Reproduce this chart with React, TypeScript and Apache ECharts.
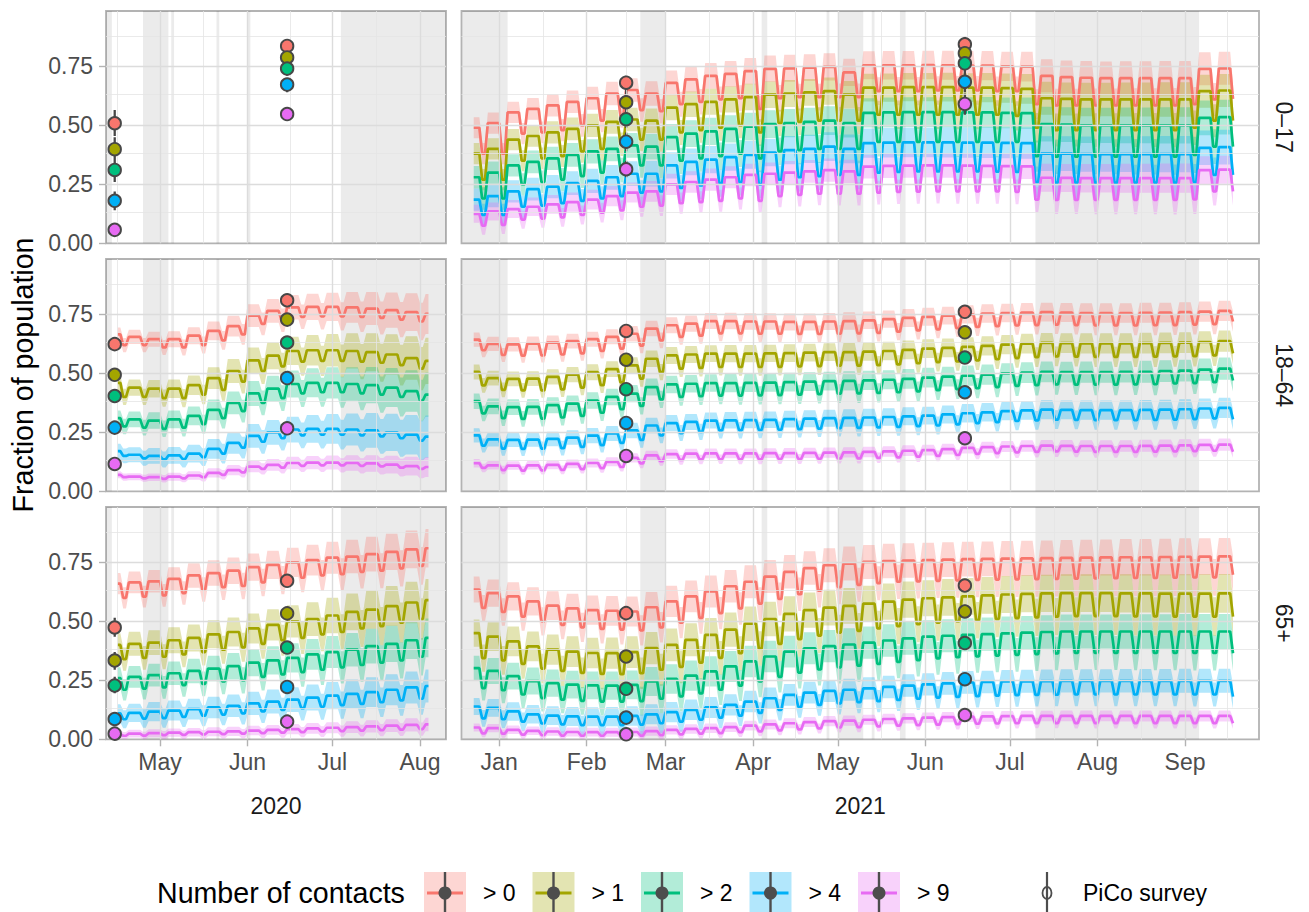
import React, { useEffect, useRef } from 'react';
import * as echarts from 'echarts';

const DAY = 86400000;
const d = (s: string) => Date.parse(s.length > 10 ? s + ':00Z' : s + 'T00:00:00Z');

const FONT = '"Liberation Sans", Arial, Helvetica, sans-serif';
const COLORS = ['#F8766D', '#A3A500', '#00BF7D', '#00B0F6', '#E76BF3'];
const FILLS = ['rgba(248,118,109,0.3)', 'rgba(163,165,0,0.3)', 'rgba(0,191,125,0.3)', 'rgba(0,176,246,0.3)', 'rgba(231,107,243,0.3)'];
const CATEGORIES = ['> 0', '> 1', '> 2', '> 4', '> 9'];
const AGE_GROUPS = ['0–17', '18–64', '65+'];
const YEARS = ['2020', '2021'];
const LEGEND_TITLE = 'Number of contacts';
const PICO_LABEL = 'PiCo survey';
const Y_TITLE = 'Fraction of population';
const Y_TICKS = [0, 0.25, 0.5, 0.75];
const Y_TICK_LABELS = ['0.00', '0.25', '0.50', '0.75'];
const Y_MINOR = [0.125, 0.375, 0.625, 0.875];
const Y_MAX = 0.985;

// x ranges of the panels
const X_RANGE_2020 = ['2020-04-11T22:00', '2020-08-10T05:00'];
const X_RANGE_2021 = ['2020-12-18T16:00', '2021-09-27T05:00'];
// month breaks (outer ones only used for minor grid lines)
const MONTHS_2020 = ['2020-04-01', '2020-05-01', '2020-06-01', '2020-07-01', '2020-08-01', '2020-09-01'];
const MONTH_TICKS_2020 = ['2020-05-01', '2020-06-01', '2020-07-01', '2020-08-01'];
const MONTH_LABELS_2020 = ['May', 'Jun', 'Jul', 'Aug'];
const MONTHS_2021 = ['2020-12-01', '2021-01-01', '2021-02-01', '2021-03-01', '2021-04-01', '2021-05-01', '2021-06-01', '2021-07-01', '2021-08-01', '2021-09-01', '2021-10-01'];
const MONTH_TICKS_2021 = ['2021-01-01', '2021-02-01', '2021-03-01', '2021-04-01', '2021-05-01', '2021-06-01', '2021-07-01', '2021-08-01', '2021-09-01'];
const MONTH_LABELS_2021 = ['Jan', 'Feb', 'Mar', 'Apr', 'May', 'Jun', 'Jul', 'Aug', 'Sep'];

// daily model data: first day, last day, monday of first week
const DAYS_2020 = ['2020-04-16', '2020-08-04', '2020-04-13'];
const DAYS_2021 = ['2020-12-23', '2021-09-18', '2020-12-21'];

// school holidays / public holidays (start inclusive, end exclusive)
const HOLIDAYS_2020 = [['2020-04-10', '2020-04-14'], ['2020-04-25', '2020-05-04'], ['2020-05-05', '2020-05-06'], ['2020-05-21', '2020-05-22'], ['2020-06-01', '2020-06-02'], ['2020-07-04', '2020-08-31']];
const HOLIDAYS_2021 = [['2020-12-19', '2021-01-04'], ['2021-02-20', '2021-03-01'], ['2021-04-04', '2021-04-06'], ['2021-04-27', '2021-04-28'], ['2021-05-01', '2021-05-10'], ['2021-05-13', '2021-05-14'], ['2021-05-23', '2021-05-25'], ['2021-07-10', '2021-09-06']];

// PiCo survey rounds
const PICO_DATES_2020 = ['2020-04-15', '2020-06-15'];
const PICO_DATES_2021 = ['2021-02-15', '2021-06-15'];

const PICO_017_2020 = [[0.509, 0.399, 0.311, 0.18, 0.057], [0.837, 0.788, 0.741, 0.673, 0.548]];
const PICO_017_2020_LO = [[0.455, 0.35, 0.26, 0.14, 0.035], [0.81, 0.76, 0.71, 0.64, 0.52]];
const PICO_017_2020_HI = [[0.565, 0.45, 0.36, 0.22, 0.08], [0.86, 0.82, 0.77, 0.7, 0.575]];
const PICO_1864_2020 = [[0.624, 0.494, 0.404, 0.27, 0.116], [0.81, 0.728, 0.631, 0.48, 0.267]];
const PICO_1864_2020_LO = [[0.6, 0.47, 0.38, 0.25, 0.1], [0.79, 0.705, 0.61, 0.46, 0.25]];
const PICO_1864_2020_HI = [[0.645, 0.515, 0.425, 0.29, 0.13], [0.83, 0.75, 0.65, 0.5, 0.285]];
const PICO_65_2020 = [[0.474, 0.334, 0.228, 0.086, 0.024], [0.672, 0.534, 0.389, 0.222, 0.075]];
const PICO_65_2020_LO = [[0.435, 0.295, 0.195, 0.065, 0.01], [0.65, 0.51, 0.365, 0.205, 0.065]];
const PICO_65_2020_HI = [[0.515, 0.37, 0.265, 0.11, 0.04], [0.695, 0.56, 0.415, 0.245, 0.09]];
const PICO_017_2021 = [[0.681, 0.598, 0.526, 0.431, 0.314], [0.844, 0.806, 0.763, 0.685, 0.591]];
const PICO_017_2021_LO = [[0.64, 0.56, 0.49, 0.39, 0.28], [0.81, 0.77, 0.72, 0.64, 0.545]];
const PICO_017_2021_HI = [[0.71, 0.64, 0.57, 0.47, 0.35], [0.876, 0.84, 0.8, 0.73, 0.635]];
const PICO_1864_2021 = [[0.68, 0.558, 0.433, 0.29, 0.15], [0.761, 0.674, 0.567, 0.42, 0.225]];
const PICO_1864_2021_LO = [[0.66, 0.535, 0.41, 0.27, 0.135], [0.745, 0.655, 0.55, 0.4, 0.21]];
const PICO_1864_2021_HI = [[0.7, 0.58, 0.455, 0.31, 0.165], [0.777, 0.69, 0.585, 0.44, 0.24]];
const PICO_65_2021 = [[0.535, 0.351, 0.214, 0.092, 0.021], [0.652, 0.542, 0.408, 0.255, 0.103]];
const PICO_65_2021_LO = [[0.51, 0.325, 0.195, 0.08, 0.015], [0.625, 0.515, 0.385, 0.235, 0.09]];
const PICO_65_2021_HI = [[0.56, 0.375, 0.235, 0.105, 0.03], [0.68, 0.57, 0.43, 0.275, 0.115]];

// ---- 2020, weekly (Mon-Fri level, Sat-Sun level), 17 weeks from 2020-04-13 ----
const HI_1864_2020 = [
  [0.665, 0.655, 0.645, 0.645, 0.66, 0.68, 0.70, 0.745, 0.765, 0.78, 0.782, 0.782, 0.78, 0.775, 0.768, 0.76, 0.752],
  [0.46, 0.44, 0.435, 0.435, 0.45, 0.48, 0.51, 0.555, 0.575, 0.595, 0.598, 0.598, 0.595, 0.59, 0.58, 0.565, 0.553],
  [0.31, 0.305, 0.30, 0.305, 0.32, 0.345, 0.375, 0.415, 0.435, 0.455, 0.46, 0.46, 0.455, 0.45, 0.44, 0.425, 0.41],
  [0.17, 0.155, 0.15, 0.152, 0.16, 0.18, 0.205, 0.235, 0.25, 0.262, 0.265, 0.265, 0.262, 0.258, 0.25, 0.24, 0.232],
  [0.07, 0.062, 0.06, 0.062, 0.067, 0.078, 0.09, 0.105, 0.112, 0.12, 0.122, 0.122, 0.12, 0.118, 0.113, 0.107, 0.103],
];
const LO_1864_2020 = [
  [0.62, 0.62, 0.61, 0.61, 0.62, 0.64, 0.665, 0.71, 0.725, 0.74, 0.742, 0.742, 0.74, 0.735, 0.728, 0.72, 0.715],
  [0.40, 0.40, 0.395, 0.395, 0.41, 0.43, 0.465, 0.51, 0.53, 0.55, 0.553, 0.553, 0.55, 0.545, 0.535, 0.52, 0.515],
  [0.275, 0.27, 0.265, 0.27, 0.285, 0.31, 0.34, 0.375, 0.395, 0.415, 0.42, 0.42, 0.415, 0.41, 0.40, 0.385, 0.375],
  [0.15, 0.14, 0.135, 0.137, 0.145, 0.16, 0.185, 0.21, 0.225, 0.237, 0.24, 0.24, 0.237, 0.233, 0.225, 0.215, 0.21],
  [0.06, 0.055, 0.053, 0.055, 0.06, 0.07, 0.08, 0.095, 0.1, 0.108, 0.11, 0.11, 0.108, 0.106, 0.1, 0.095, 0.092],
];
const BAND_1864_2020 = [0.03, 0.03, 0.032, 0.034, 0.036, 0.04, 0.044, 0.048, 0.05, 0.052, 0.056, 0.06, 0.065, 0.07, 0.075, 0.08, 0.085];
const BAND_SCALE_1864_2020 = [1.0, 1.15, 1.1, 1.05, 0.5];

const HI_65_2020 = [
  [0.66, 0.665, 0.67, 0.68, 0.695, 0.705, 0.715, 0.73, 0.74, 0.75, 0.76, 0.77, 0.775, 0.785, 0.795, 0.805, 0.81],
  [0.40, 0.405, 0.41, 0.42, 0.43, 0.445, 0.455, 0.47, 0.485, 0.50, 0.51, 0.525, 0.54, 0.55, 0.565, 0.58, 0.59],
  [0.26, 0.265, 0.272, 0.28, 0.29, 0.30, 0.31, 0.325, 0.335, 0.345, 0.36, 0.37, 0.38, 0.395, 0.405, 0.42, 0.43],
  [0.11, 0.112, 0.117, 0.122, 0.128, 0.135, 0.142, 0.152, 0.16, 0.168, 0.177, 0.185, 0.193, 0.20, 0.21, 0.22, 0.226],
  [0.022, 0.024, 0.026, 0.028, 0.03, 0.032, 0.034, 0.037, 0.04, 0.043, 0.046, 0.049, 0.052, 0.055, 0.058, 0.061, 0.063],
];
const LO_65_2020 = [
  [0.60, 0.605, 0.61, 0.62, 0.635, 0.645, 0.65, 0.665, 0.675, 0.685, 0.695, 0.70, 0.71, 0.715, 0.725, 0.735, 0.74],
  [0.34, 0.345, 0.35, 0.36, 0.37, 0.38, 0.39, 0.405, 0.42, 0.43, 0.445, 0.455, 0.47, 0.48, 0.495, 0.51, 0.52],
  [0.21, 0.215, 0.22, 0.23, 0.235, 0.245, 0.25, 0.265, 0.275, 0.285, 0.295, 0.305, 0.315, 0.325, 0.335, 0.35, 0.36],
  [0.085, 0.088, 0.09, 0.095, 0.1, 0.105, 0.11, 0.118, 0.125, 0.132, 0.138, 0.145, 0.15, 0.157, 0.165, 0.172, 0.178],
  [0.015, 0.016, 0.018, 0.019, 0.021, 0.022, 0.024, 0.026, 0.028, 0.03, 0.033, 0.035, 0.037, 0.039, 0.041, 0.043, 0.045],
];
const BAND_65_2020 = [0.045, 0.046, 0.048, 0.05, 0.052, 0.054, 0.056, 0.058, 0.06, 0.062, 0.065, 0.068, 0.071, 0.074, 0.077, 0.08, 0.082];
const BAND_SCALE_65_2020 = [1.0, 1.1, 1.0, 0.85, 0.35];

// ---- 2021, weekly, 39 weeks from 2020-12-21 ----
const HI_017_2021 = [
  [0.49, 0.51, 0.555, 0.57, 0.585, 0.60, 0.615, 0.635, 0.65, 0.635, 0.68, 0.695, 0.71, 0.718, 0.73, 0.74, 0.742, 0.745, 0.748, 0.725, 0.755, 0.755, 0.755, 0.756, 0.755, 0.754, 0.753, 0.75, 0.749, 0.71, 0.705, 0.702, 0.70, 0.70, 0.70, 0.70, 0.70, 0.74, 0.742],
  [0.38, 0.40, 0.44, 0.455, 0.47, 0.485, 0.50, 0.515, 0.525, 0.52, 0.575, 0.59, 0.60, 0.61, 0.62, 0.63, 0.635, 0.64, 0.645, 0.63, 0.66, 0.66, 0.662, 0.662, 0.662, 0.66, 0.66, 0.658, 0.655, 0.615, 0.612, 0.61, 0.61, 0.61, 0.61, 0.61, 0.61, 0.645, 0.648],
  [0.28, 0.30, 0.33, 0.345, 0.36, 0.375, 0.39, 0.40, 0.415, 0.41, 0.45, 0.465, 0.475, 0.485, 0.495, 0.505, 0.51, 0.515, 0.52, 0.51, 0.553, 0.555, 0.556, 0.556, 0.556, 0.555, 0.555, 0.553, 0.552, 0.505, 0.503, 0.50, 0.50, 0.50, 0.50, 0.50, 0.50, 0.532, 0.535],
  [0.185, 0.20, 0.22, 0.23, 0.24, 0.255, 0.265, 0.28, 0.295, 0.295, 0.33, 0.345, 0.355, 0.365, 0.375, 0.385, 0.395, 0.40, 0.41, 0.40, 0.425, 0.427, 0.428, 0.428, 0.428, 0.427, 0.427, 0.426, 0.425, 0.38, 0.38, 0.378, 0.378, 0.378, 0.378, 0.378, 0.378, 0.405, 0.408],
  [0.125, 0.135, 0.145, 0.155, 0.165, 0.175, 0.185, 0.20, 0.215, 0.22, 0.25, 0.26, 0.27, 0.28, 0.29, 0.295, 0.30, 0.305, 0.31, 0.305, 0.325, 0.328, 0.329, 0.33, 0.33, 0.329, 0.328, 0.327, 0.326, 0.278, 0.277, 0.276, 0.276, 0.276, 0.276, 0.276, 0.276, 0.31, 0.312],
];
const LO_017_2021 = [
  [0.38, 0.38, 0.465, 0.47, 0.48, 0.50, 0.52, 0.54, 0.565, 0.56, 0.59, 0.60, 0.61, 0.615, 0.57, 0.615, 0.62, 0.62, 0.62, 0.62, 0.645, 0.645, 0.645, 0.648, 0.648, 0.648, 0.645, 0.645, 0.59, 0.585, 0.585, 0.585, 0.585, 0.585, 0.585, 0.585, 0.59, 0.61, 0.612],
  [0.27, 0.27, 0.35, 0.36, 0.37, 0.39, 0.40, 0.42, 0.44, 0.44, 0.47, 0.48, 0.49, 0.50, 0.47, 0.51, 0.515, 0.52, 0.52, 0.52, 0.545, 0.545, 0.545, 0.545, 0.545, 0.545, 0.545, 0.54, 0.49, 0.48, 0.48, 0.48, 0.48, 0.48, 0.48, 0.48, 0.49, 0.52, 0.52],
  [0.19, 0.19, 0.25, 0.26, 0.27, 0.285, 0.30, 0.31, 0.33, 0.33, 0.35, 0.36, 0.37, 0.38, 0.36, 0.39, 0.395, 0.40, 0.40, 0.40, 0.43, 0.43, 0.43, 0.43, 0.43, 0.43, 0.43, 0.43, 0.37, 0.367, 0.367, 0.367, 0.367, 0.367, 0.367, 0.367, 0.375, 0.41, 0.41],
  [0.12, 0.12, 0.155, 0.16, 0.17, 0.18, 0.19, 0.20, 0.215, 0.22, 0.235, 0.245, 0.255, 0.26, 0.25, 0.27, 0.28, 0.285, 0.29, 0.29, 0.30, 0.303, 0.305, 0.305, 0.305, 0.305, 0.304, 0.303, 0.26, 0.257, 0.257, 0.257, 0.257, 0.257, 0.257, 0.257, 0.26, 0.29, 0.29],
  [0.075, 0.078, 0.10, 0.105, 0.11, 0.12, 0.13, 0.14, 0.155, 0.16, 0.17, 0.175, 0.18, 0.19, 0.18, 0.20, 0.205, 0.21, 0.21, 0.21, 0.215, 0.218, 0.219, 0.22, 0.22, 0.22, 0.22, 0.218, 0.185, 0.184, 0.184, 0.184, 0.184, 0.184, 0.184, 0.184, 0.186, 0.22, 0.22],
];
const BAND_017_2021 = [0.045, 0.045, 0.045, 0.046, 0.047, 0.048, 0.049, 0.05, 0.05, 0.052, 0.053, 0.054, 0.055, 0.055, 0.056, 0.056, 0.057, 0.057, 0.058, 0.058, 0.059, 0.06, 0.06, 0.06, 0.061, 0.061, 0.062, 0.062, 0.063, 0.07, 0.07, 0.071, 0.071, 0.072, 0.072, 0.073, 0.073, 0.07, 0.07];
const BAND_SCALE_017_2021 = [1.0, 1.0, 1.05, 1.05, 0.85];

const HI_1864_2021 = [
  [0.643, 0.625, 0.623, 0.626, 0.63, 0.637, 0.645, 0.655, 0.668, 0.69, 0.704, 0.711, 0.722, 0.722, 0.72, 0.72, 0.718, 0.718, 0.72, 0.722, 0.725, 0.73, 0.735, 0.74, 0.745, 0.75, 0.754, 0.756, 0.758, 0.76, 0.758, 0.756, 0.756, 0.756, 0.757, 0.758, 0.76, 0.762, 0.765],
  [0.506, 0.48, 0.477, 0.478, 0.485, 0.495, 0.505, 0.518, 0.534, 0.562, 0.576, 0.58, 0.584, 0.584, 0.584, 0.585, 0.586, 0.588, 0.59, 0.59, 0.592, 0.595, 0.60, 0.605, 0.608, 0.612, 0.617, 0.622, 0.626, 0.629, 0.628, 0.627, 0.627, 0.627, 0.628, 0.629, 0.63, 0.633, 0.637],
  [0.382, 0.36, 0.357, 0.358, 0.365, 0.372, 0.385, 0.40, 0.414, 0.442, 0.453, 0.456, 0.459, 0.459, 0.46, 0.461, 0.463, 0.465, 0.467, 0.468, 0.47, 0.473, 0.477, 0.482, 0.486, 0.49, 0.495, 0.50, 0.503, 0.506, 0.505, 0.505, 0.505, 0.506, 0.507, 0.51, 0.512, 0.516, 0.52],
  [0.237, 0.22, 0.218, 0.219, 0.222, 0.228, 0.236, 0.245, 0.258, 0.279, 0.289, 0.294, 0.30, 0.301, 0.302, 0.303, 0.306, 0.308, 0.31, 0.311, 0.313, 0.315, 0.318, 0.321, 0.326, 0.331, 0.335, 0.34, 0.343, 0.346, 0.345, 0.344, 0.344, 0.344, 0.345, 0.346, 0.348, 0.351, 0.354],
  [0.119, 0.11, 0.109, 0.11, 0.112, 0.116, 0.12, 0.125, 0.142, 0.152, 0.158, 0.16, 0.161, 0.161, 0.161, 0.162, 0.162, 0.163, 0.164, 0.165, 0.167, 0.169, 0.172, 0.175, 0.179, 0.184, 0.187, 0.19, 0.192, 0.194, 0.193, 0.192, 0.192, 0.192, 0.193, 0.194, 0.195, 0.197, 0.198],
];
const LO_1864_2021 = [
  [0.598, 0.578, 0.575, 0.576, 0.58, 0.585, 0.595, 0.605, 0.618, 0.64, 0.655, 0.66, 0.67, 0.67, 0.668, 0.668, 0.667, 0.667, 0.668, 0.67, 0.672, 0.677, 0.682, 0.687, 0.692, 0.697, 0.70, 0.703, 0.705, 0.707, 0.705, 0.703, 0.703, 0.703, 0.704, 0.705, 0.707, 0.709, 0.72],
  [0.449, 0.43, 0.428, 0.428, 0.432, 0.44, 0.45, 0.462, 0.478, 0.505, 0.52, 0.523, 0.527, 0.527, 0.527, 0.528, 0.53, 0.531, 0.533, 0.533, 0.535, 0.538, 0.543, 0.548, 0.551, 0.555, 0.56, 0.565, 0.569, 0.572, 0.571, 0.57, 0.57, 0.57, 0.571, 0.572, 0.573, 0.576, 0.585],
  [0.33, 0.31, 0.307, 0.308, 0.313, 0.32, 0.333, 0.348, 0.362, 0.39, 0.40, 0.403, 0.406, 0.406, 0.407, 0.408, 0.41, 0.412, 0.414, 0.415, 0.417, 0.42, 0.424, 0.429, 0.433, 0.437, 0.442, 0.447, 0.45, 0.453, 0.452, 0.452, 0.452, 0.453, 0.454, 0.457, 0.459, 0.463, 0.47],
  [0.194, 0.181, 0.18, 0.181, 0.183, 0.188, 0.196, 0.205, 0.218, 0.237, 0.247, 0.252, 0.258, 0.259, 0.26, 0.261, 0.264, 0.266, 0.268, 0.269, 0.271, 0.273, 0.276, 0.279, 0.284, 0.289, 0.293, 0.298, 0.301, 0.304, 0.303, 0.302, 0.302, 0.302, 0.303, 0.304, 0.306, 0.309, 0.305],
  [0.099, 0.09, 0.088, 0.089, 0.091, 0.094, 0.098, 0.103, 0.118, 0.128, 0.133, 0.135, 0.136, 0.136, 0.136, 0.137, 0.137, 0.138, 0.139, 0.14, 0.142, 0.144, 0.147, 0.15, 0.154, 0.159, 0.162, 0.165, 0.167, 0.169, 0.168, 0.167, 0.167, 0.167, 0.168, 0.169, 0.17, 0.172, 0.168],
];
const BAND_1864_2021 = [0.03, 0.03, 0.03, 0.03, 0.031, 0.031, 0.032, 0.032, 0.033, 0.033, 0.034, 0.034, 0.034, 0.035, 0.035, 0.035, 0.036, 0.036, 0.036, 0.037, 0.037, 0.037, 0.038, 0.038, 0.038, 0.039, 0.039, 0.039, 0.04, 0.04, 0.04, 0.041, 0.041, 0.041, 0.042, 0.042, 0.042, 0.043, 0.043];
const BAND_SCALE_1864_2021 = [1.0, 1.05, 1.1, 1.0, 0.6];

const HI_65_2021 = [
  [0.635, 0.62, 0.606, 0.585, 0.567, 0.555, 0.548, 0.545, 0.542, 0.56, 0.585, 0.606, 0.627, 0.649, 0.668, 0.69, 0.71, 0.726, 0.738, 0.745, 0.752, 0.756, 0.758, 0.76, 0.762, 0.764, 0.765, 0.766, 0.767, 0.768, 0.769, 0.77, 0.771, 0.772, 0.772, 0.773, 0.774, 0.775, 0.776],
  [0.45, 0.435, 0.415, 0.394, 0.38, 0.372, 0.366, 0.365, 0.37, 0.387, 0.40, 0.422, 0.443, 0.465, 0.49, 0.51, 0.532, 0.548, 0.558, 0.566, 0.575, 0.584, 0.592, 0.598, 0.602, 0.606, 0.61, 0.614, 0.617, 0.619, 0.62, 0.62, 0.62, 0.619, 0.619, 0.618, 0.618, 0.618, 0.619],
  [0.302, 0.29, 0.268, 0.247, 0.238, 0.232, 0.229, 0.228, 0.231, 0.245, 0.256, 0.27, 0.288, 0.309, 0.33, 0.351, 0.372, 0.386, 0.395, 0.402, 0.41, 0.419, 0.428, 0.435, 0.439, 0.443, 0.446, 0.449, 0.452, 0.455, 0.457, 0.457, 0.457, 0.457, 0.457, 0.457, 0.457, 0.457, 0.457],
  [0.139, 0.133, 0.118, 0.106, 0.10, 0.097, 0.096, 0.096, 0.099, 0.106, 0.115, 0.125, 0.135, 0.146, 0.16, 0.174, 0.188, 0.198, 0.205, 0.21, 0.216, 0.222, 0.228, 0.233, 0.237, 0.241, 0.243, 0.245, 0.246, 0.247, 0.248, 0.248, 0.248, 0.248, 0.248, 0.248, 0.248, 0.248, 0.248],
  [0.05, 0.047, 0.04, 0.036, 0.033, 0.031, 0.03, 0.03, 0.031, 0.035, 0.04, 0.044, 0.047, 0.052, 0.058, 0.063, 0.068, 0.073, 0.077, 0.079, 0.083, 0.086, 0.089, 0.092, 0.094, 0.096, 0.097, 0.098, 0.099, 0.099, 0.099, 0.099, 0.099, 0.099, 0.099, 0.099, 0.099, 0.099, 0.099],
];
const LO_65_2021 = [
  [0.557, 0.54, 0.52, 0.50, 0.485, 0.475, 0.468, 0.465, 0.462, 0.475, 0.495, 0.515, 0.535, 0.555, 0.575, 0.595, 0.615, 0.63, 0.645, 0.655, 0.662, 0.668, 0.67, 0.672, 0.674, 0.676, 0.677, 0.678, 0.679, 0.68, 0.681, 0.682, 0.683, 0.684, 0.684, 0.685, 0.686, 0.687, 0.698],
  [0.344, 0.335, 0.32, 0.30, 0.29, 0.282, 0.277, 0.276, 0.28, 0.295, 0.307, 0.325, 0.345, 0.365, 0.385, 0.405, 0.425, 0.44, 0.452, 0.46, 0.47, 0.48, 0.488, 0.495, 0.50, 0.505, 0.51, 0.514, 0.517, 0.52, 0.522, 0.522, 0.522, 0.521, 0.521, 0.52, 0.52, 0.52, 0.52],
  [0.217, 0.208, 0.19, 0.175, 0.168, 0.163, 0.16, 0.16, 0.162, 0.172, 0.182, 0.195, 0.21, 0.228, 0.245, 0.265, 0.283, 0.296, 0.305, 0.312, 0.32, 0.328, 0.336, 0.343, 0.348, 0.352, 0.355, 0.358, 0.361, 0.364, 0.366, 0.366, 0.366, 0.366, 0.366, 0.366, 0.366, 0.366, 0.365],
  [0.089, 0.085, 0.075, 0.067, 0.063, 0.06, 0.06, 0.06, 0.062, 0.068, 0.075, 0.083, 0.092, 0.10, 0.112, 0.125, 0.137, 0.146, 0.152, 0.157, 0.162, 0.167, 0.172, 0.177, 0.18, 0.183, 0.185, 0.187, 0.188, 0.189, 0.19, 0.19, 0.19, 0.19, 0.19, 0.19, 0.19, 0.19, 0.181],
  [0.025, 0.024, 0.02, 0.018, 0.016, 0.015, 0.015, 0.015, 0.016, 0.018, 0.021, 0.024, 0.026, 0.03, 0.034, 0.038, 0.042, 0.046, 0.05, 0.052, 0.055, 0.058, 0.06, 0.062, 0.064, 0.066, 0.067, 0.068, 0.069, 0.069, 0.069, 0.069, 0.069, 0.069, 0.069, 0.069, 0.069, 0.069, 0.068],
];
const BAND_65_2021 = [0.055, 0.058, 0.06, 0.06, 0.061, 0.062, 0.062, 0.063, 0.064, 0.065, 0.066, 0.067, 0.068, 0.069, 0.07, 0.07, 0.071, 0.071, 0.072, 0.072, 0.072, 0.073, 0.073, 0.073, 0.074, 0.074, 0.074, 0.075, 0.075, 0.075, 0.076, 0.076, 0.076, 0.077, 0.077, 0.077, 0.078, 0.078, 0.078];
const BAND_SCALE_65_2021 = [1.0, 1.05, 0.95, 0.65, 0.3];

// ---- layout ----
const COL_LEFT = [106, 461.5];
const COL_WIDTH = [340, 797.5];
const ROW_TOP = [11, 259, 507];
const ROW_HEIGHT = 232.3;

type Panel = {
  row: number; col: number;
  hi?: number[][]; lo?: number[][]; band?: number[]; bandScale?: number[];
  pico: number[][]; picoLo: number[][]; picoHi: number[][];
};

const PANELS: Panel[] = [
  { row: 0, col: 0, pico: PICO_017_2020, picoLo: PICO_017_2020_LO, picoHi: PICO_017_2020_HI },
  { row: 0, col: 1, hi: HI_017_2021, lo: LO_017_2021, band: BAND_017_2021, bandScale: BAND_SCALE_017_2021, pico: PICO_017_2021, picoLo: PICO_017_2021_LO, picoHi: PICO_017_2021_HI },
  { row: 1, col: 0, hi: HI_1864_2020, lo: LO_1864_2020, band: BAND_1864_2020, bandScale: BAND_SCALE_1864_2020, pico: PICO_1864_2020, picoLo: PICO_1864_2020_LO, picoHi: PICO_1864_2020_HI },
  { row: 1, col: 1, hi: HI_1864_2021, lo: LO_1864_2021, band: BAND_1864_2021, bandScale: BAND_SCALE_1864_2021, pico: PICO_1864_2021, picoLo: PICO_1864_2021_LO, picoHi: PICO_1864_2021_HI },
  { row: 2, col: 0, hi: HI_65_2020, lo: LO_65_2020, band: BAND_65_2020, bandScale: BAND_SCALE_65_2020, pico: PICO_65_2020, picoLo: PICO_65_2020_LO, picoHi: PICO_65_2020_HI },
  { row: 2, col: 1, hi: HI_65_2021, lo: LO_65_2021, band: BAND_65_2021, bandScale: BAND_SCALE_65_2021, pico: PICO_65_2021, picoLo: PICO_65_2021_LO, picoHi: PICO_65_2021_HI },
];

function expandDaily(days: string[], hi: number[], lo: number[]) {
  const start = d(days[0]);
  const end = d(days[1]);
  const monday = d(days[2]);
  const out: { t: number; v: number; w: number }[] = [];
  for (let t = start; t <= end; t += DAY) {
    const n = Math.round((t - monday) / DAY);
    const w = Math.floor(n / 7);
    const dow = n % 7;
    out.push({ t, v: dow < 5 ? hi[w] : lo[w], w });
  }
  return out;
}

function buildOption() {
  const grid: any[] = [];
  const xAxis: any[] = [];
  const yAxis: any[] = [];
  const series: any[] = [];

  PANELS.forEach((p, gi) => {
    const is2020 = p.col === 0;
    const range = (is2020 ? X_RANGE_2020 : X_RANGE_2021).map(d);
    const months = (is2020 ? MONTHS_2020 : MONTHS_2021).map(d);
    const monthTicks = (is2020 ? MONTH_TICKS_2020 : MONTH_TICKS_2021).map(d);
    const monthLabels = is2020 ? MONTH_LABELS_2020 : MONTH_LABELS_2021;
    const holidays = is2020 ? HOLIDAYS_2020 : HOLIDAYS_2021;
    const days = is2020 ? DAYS_2020 : DAYS_2021;
    const picoDates = (is2020 ? PICO_DATES_2020 : PICO_DATES_2021).map(d);
    const isBottom = p.row === 2;
    const isLeft = p.col === 0;

    grid.push({
      left: COL_LEFT[p.col], top: ROW_TOP[p.row], width: COL_WIDTH[p.col], height: ROW_HEIGHT,
      show: true, borderColor: '#b3b3b3', borderWidth: 1.8, backgroundColor: 'rgba(0,0,0,0)',
      containLabel: false, outerBoundsMode: 'none',
    });
    xAxis.push({
      type: 'value', gridIndex: gi, min: range[0], max: range[1], scale: true,
      axisLine: { show: false }, splitLine: { show: false }, minorSplitLine: { show: false },
      axisTick: { show: isBottom, length: 7, customValues: monthTicks, lineStyle: { color: '#b3b3b3', width: 1.4 } },
      axisLabel: {
        show: isBottom, customValues: monthTicks, margin: 11, color: '#4d4d4d', fontSize: 23, fontFamily: FONT,
        showMinLabel: true, showMaxLabel: true, hideOverlap: false,
        formatter: (v: number) => {
          const i = monthTicks.findIndex((m) => Math.abs(m - v) < DAY / 2);
          return i >= 0 ? monthLabels[i] : '';
        },
      },
    });
    yAxis.push({
      type: 'value', gridIndex: gi, min: 0, max: Y_MAX, interval: 0.25,
      axisLine: { show: false }, splitLine: { show: false },
      axisTick: { show: isLeft, length: 7, customValues: Y_TICKS, lineStyle: { color: '#b3b3b3', width: 1.4 } },
      axisLabel: {
        show: isLeft, customValues: Y_TICKS, margin: 13, color: '#4d4d4d', fontSize: 23, fontFamily: FONT,
        formatter: (v: number) => {
          const i = Y_TICKS.findIndex((m) => Math.abs(m - v) < 1e-6);
          return i >= 0 ? Y_TICK_LABELS[i] : '';
        },
      },
    });

    // grid lines
    const minorX: number[] = [];
    for (let i = 0; i < months.length - 1; i++) {
      const m = (months[i] + months[i + 1]) / 2;
      if (m > range[0] && m < range[1]) minorX.push(m);
    }
    const majorX = months.filter((m) => m > range[0] && m < range[1]);
    const lineData: any[] = [];
    minorX.forEach((t) => lineData.push({ xAxis: t, lineStyle: { color: '#e4e4e4', width: 0.8, type: 'solid' } }));
    Y_MINOR.forEach((v) => lineData.push({ yAxis: v, lineStyle: { color: '#e4e4e4', width: 0.8, type: 'solid' } }));
    majorX.forEach((t) => lineData.push({ xAxis: t, lineStyle: { color: '#dcdcdc', width: 1.4, type: 'solid' } }));
    Y_TICKS.filter((v) => v > 0).forEach((v) => lineData.push({ yAxis: v, lineStyle: { color: '#dcdcdc', width: 1.4, type: 'solid' } }));
    series.push({
      type: 'line', xAxisIndex: gi, yAxisIndex: gi, data: [], z: 1, silent: true,
      markLine: { silent: true, symbol: ['none', 'none'], label: { show: false }, emphasis: { disabled: true }, data: lineData },
    });

    // holidays
    series.push({
      type: 'line', xAxisIndex: gi, yAxisIndex: gi, data: [], z: 1, silent: true,
      markArea: {
        silent: true, emphasis: { disabled: true },
        itemStyle: { color: 'rgba(0,0,0,0.08)' },
        data: holidays.map(([a, b]) => [
          { xAxis: Math.max(d(a), range[0]) },
          { xAxis: Math.min(d(b), range[1]) },
        ]),
      },
    });

    // ribbons (polygon through the daily upper and lower bounds)
    if (p.hi && p.lo && p.band && p.bandScale) {
      const dailies = p.hi.map((h, k) => expandDaily(days, h, p.lo![k]));
      dailies.forEach((arr, k) => {
        const s = p.bandScale![k];
        const lower = arr.map((o) => [o.t, Math.max(0, o.v - p.band![o.w] * s)]);
        const upper = arr.map((o) => [o.t, o.v + p.band![o.w] * s]);
        const fill = FILLS[k];
        series.push({
          type: 'custom', coordinateSystem: 'cartesian2d', xAxisIndex: gi, yAxisIndex: gi,
          data: [upper[0]], encode: { x: 0, y: 1 }, clip: true, silent: true, z: 2,
          renderItem: (params: any, api: any) => {
            const pts: number[][] = [];
            for (let i = 0; i < upper.length; i++) pts.push(api.coord(upper[i]));
            for (let i = lower.length - 1; i >= 0; i--) pts.push(api.coord(lower[i]));
            return { type: 'polygon', shape: { points: pts }, style: { fill, stroke: 'none' } };
          },
        });
      });
      dailies.forEach((arr, k) => {
        series.push({
          type: 'line', xAxisIndex: gi, yAxisIndex: gi, data: arr.map((o) => [o.t, o.v]),
          showSymbol: false, symbol: 'none', lineStyle: { color: COLORS[k], width: 2.7 }, silent: true, z: 3,
        });
      });
    }

    // PiCo error bars
    const errData: any[] = [];
    picoDates.forEach((t, j) => {
      for (let k = 0; k < 5; k++) {
        errData.push([t, p.picoLo[j][k]], [t, p.picoHi[j][k]], [t, null]);
      }
    });
    series.push({
      type: 'line', xAxisIndex: gi, yAxisIndex: gi, data: errData, connectNulls: false,
      showSymbol: false, symbol: 'none', lineStyle: { color: '#474747', width: 2.3 }, silent: true, z: 4,
    });
    // PiCo points
    const ptData: any[] = [];
    picoDates.forEach((t, j) => {
      for (let k = 0; k < 5; k++) {
        ptData.push({ value: [t, p.pico[j][k]], itemStyle: { color: COLORS[k] } });
      }
    });
    series.push({
      type: 'scatter', xAxisIndex: gi, yAxisIndex: gi, data: ptData, symbol: 'circle', symbolSize: 12.5,
      itemStyle: { borderColor: '#474747', borderWidth: 1.9, opacity: 1 }, silent: true, z: 5,
    });
  });

  // graphics: titles, strips, legend
  const graphic: any[] = [];
  const txt = (text: string, x: number, y: number, size: number, opts: any = {}) => ({
    type: 'text', x, y, rotation: opts.rotation || 0, silent: true,
    style: {
      text, fill: opts.fill || '#000000', fontSize: size, fontFamily: FONT,
      align: opts.align || 'center', verticalAlign: 'middle',
      textAlign: opts.align || 'center', textVerticalAlign: 'middle',
    },
  });
  graphic.push(txt(Y_TITLE, 22.5, 375, 28.6, { rotation: Math.PI / 2 }));
  YEARS.forEach((y, c) => graphic.push(txt(y, COL_LEFT[c] + COL_WIDTH[c] / 2, 806, 23, { fill: '#1a1a1a' })));
  AGE_GROUPS.forEach((a, r) => graphic.push(txt(a, 1284, ROW_TOP[r] + ROW_HEIGHT / 2, 23, { rotation: -Math.PI / 2, fill: '#1a1a1a' })));

  const LEG_Y = 893;
  graphic.push(txt(LEGEND_TITLE, 157, LEG_Y, 28.6, { align: 'left' }));
  CATEGORIES.forEach((c, k) => {
    const kx = 424 + k * 108.5;
    graphic.push({ type: 'rect', silent: true, shape: { x: kx, y: 872, width: 42, height: 42 }, style: { fill: FILLS[k] } });
    graphic.push({ type: 'line', silent: true, shape: { x1: kx + 3, y1: LEG_Y, x2: kx + 39, y2: LEG_Y }, style: { stroke: COLORS[k], lineWidth: 3 } });
    graphic.push({ type: 'line', silent: true, shape: { x1: kx + 21, y1: 872, x2: kx + 21, y2: 914 }, style: { stroke: '#4d4d4d', lineWidth: 2.4 } });
    graphic.push({ type: 'circle', silent: true, shape: { cx: kx + 21, cy: LEG_Y, r: 6.5 }, style: { fill: '#4d4d4d' } });
    graphic.push(txt(c, kx + 59, LEG_Y, 23, { align: 'left' }));
  });
  const px = 1047;
  graphic.push({ type: 'line', silent: true, shape: { x1: px, y1: 872, x2: px, y2: 914 }, style: { stroke: '#4d4d4d', lineWidth: 2.2 } });
  graphic.push({ type: 'ellipse', silent: true, shape: { cx: px, cy: LEG_Y, rx: 4.5, ry: 6 }, style: { fill: 'none', stroke: '#4d4d4d', lineWidth: 1.8 } });
  graphic.push(txt(PICO_LABEL, px + 36, LEG_Y, 23, { align: 'left' }));

  return {
    animation: false,
    backgroundColor: '#ffffff',
    textStyle: { fontFamily: FONT },
    grid, xAxis, yAxis, series, graphic,
  };
}

export default function App() {
  const ref = useRef<HTMLDivElement>(null);
  useEffect(() => {
    if (!ref.current) return;
    const chart = echarts.init(ref.current, null, { renderer: 'svg' });
    chart.setOption(buildOption() as any);
    return () => chart.dispose();
  }, []);
  return (
    <div
      ref={ref}
      style={{ position: 'fixed', left: 0, top: 0, width: 1309, height: 912, background: '#fff' }}
    />
  );
}
